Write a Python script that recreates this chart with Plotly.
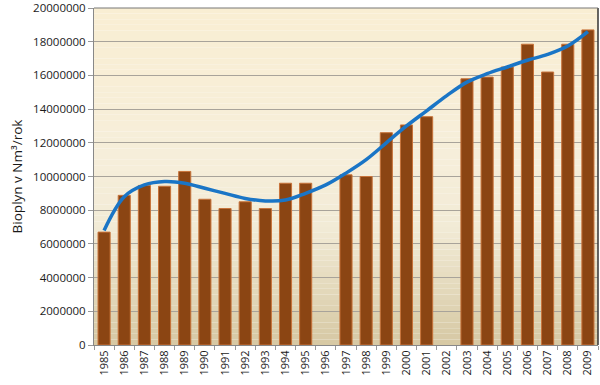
import plotly.graph_objects as go

years = [str(y) for y in range(1985, 2010)]
values = [6700000, 8880000, 9470000, 9420000, 10300000, 8650000, 8100000, 8500000, 8100000,
          9600000, 9600000, None, 10100000, 10000000, 12600000, 13060000, 13550000, None,
          15800000, 15900000, 16500000, 17850000, 16200000, 17850000, 18700000]
trend = [6800000, 8800000, 9500000, 9700000, 9600000, 9300000, 9000000, 8700000, 8550000,
         8600000, 9000000, 9500000, 10200000, 11000000, 12000000, 13000000, 13900000, 14800000,
         15600000, 16100000, 16500000, 16900000, 17250000, 17750000, 18600000]
y_ticks = list(range(0, 20000001, 2000000))

fig = go.Figure()
fig.add_trace(go.Bar(x=years, y=values, marker=dict(color="#8B4513", line=dict(color="#C8733A", width=1)),
                     showlegend=False))
fig.add_trace(go.Scatter(x=years, y=trend, mode="lines", line=dict(color="#1A75C6", width=3.5, shape="spline"),
                         showlegend=False))

# gradient background strips
stops = [(0.0, (0xD6, 0xC8, 0xA3)), (0.35, (0xF2, 0xEB, 0xD6)), (0.55, (0xF6, 0xEE, 0xDA)), (1.0, (0xF9, 0xEE, 0xD3))]
def col(t):
    for i in range(len(stops) - 1):
        a, ca = stops[i]
        b, cb = stops[i + 1]
        if a <= t <= b:
            f = (t - a) / (b - a)
            return "rgb(%d,%d,%d)" % tuple(round(ca[k] + (cb[k] - ca[k]) * f) for k in range(3))
    return "rgb(249,238,211)"
n = 60
shapes = []
for i in range(n):
    shapes.append(dict(type="rect", xref="paper", yref="paper", x0=0, x1=1, y0=i / n, y1=(i + 1) / n,
                       fillcolor=col((i + 0.5) / n), line=dict(width=0), layer="below"))
shapes.append(dict(type="line", xref="paper", yref="paper", x0=1, x1=1, y0=0, y1=1,
                   line=dict(color="#333333", width=1.5)))
shapes.append(dict(type="line", xref="paper", yref="paper", x0=0, x1=1, y0=1, y1=1,
                   line=dict(color="#777777", width=1)))

fig.update_layout(
    width=600, height=385,
    margin=dict(l=94, r=2, t=8, b=40),
    paper_bgcolor="white", plot_bgcolor="rgba(0,0,0,0)",
    bargap=0.4,
    shapes=shapes,
    font=dict(family="Open Sans, Noto Sans, sans-serif", color="#1a1a1a"),
    xaxis=dict(type="category", tickangle=-90, tickfont=dict(size=11), showgrid=False,
               showline=True, linecolor="#888888", linewidth=1, automargin=False,
               ticks="outside", ticklen=4, tickcolor="#999999", tickson="boundaries"),
    yaxis=dict(range=[0, 20000000], tickvals=y_ticks, ticktext=[str(v) for v in y_ticks],
               tickfont=dict(size=11.5), showgrid=True, gridcolor="#A8A39A", gridwidth=1,
               showline=True, linecolor="#888888", linewidth=1, zeroline=False, automargin="left",
               ticks="outside", ticklen=5, tickcolor="#999999", ticklabeloverflow="allow",
               title=dict(text="Bioplyn v Nm³/rok", font=dict(size=13.5), standoff=7)),
)
fig.write_html("out.html", config={"displayModeBar": False},
               post_script="document.body.style.margin='0';document.body.style.overflow='hidden';")
